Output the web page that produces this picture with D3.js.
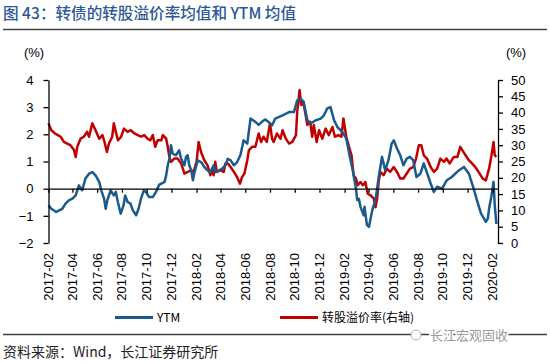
<!DOCTYPE html>
<html><head><meta charset="utf-8">
<script src="https://cdn.jsdelivr.net/npm/d3@7"></script>
<style>
html,body{margin:0;padding:0;background:#fff;}
svg{display:block;}
</style>
</head><body>
<svg id="chart" width="550" height="363"></svg>
<script>
const ytmDates = ["2017-02-01","2017-02-08","2017-02-20","2017-02-27","2017-03-07","2017-03-15","2017-03-23","2017-04-01","2017-04-09","2017-04-13","2017-04-17","2017-04-25","2017-05-03","2017-05-12","2017-05-20","2017-05-28","2017-06-06","2017-06-11","2017-06-18","2017-06-22","2017-06-26","2017-07-04","2017-07-12","2017-07-17","2017-07-22","2017-07-29","2017-08-05","2017-08-09","2017-08-15","2017-08-22","2017-08-28","2017-09-05","2017-09-11","2017-09-17","2017-09-24","2017-09-29","2017-10-07","2017-10-16","2017-10-24","2017-11-01","2017-11-06","2017-11-14","2017-11-18","2017-11-22","2017-11-26","2017-11-30","2017-12-04","2017-12-12","2017-12-20","2017-12-25","2018-01-02","2018-01-06","2018-01-10","2018-01-14","2018-01-19","2018-01-23","2018-01-27","2018-02-04","2018-02-12","2018-02-20","2018-02-28","2018-03-07","2018-03-15","2018-03-19","2018-03-28","2018-04-05","2018-04-13","2018-04-19","2018-04-26","2018-05-04","2018-05-12","2018-05-20","2018-05-28","2018-06-06","2018-06-14","2018-06-26","2018-07-04","2018-07-12","2018-07-20","2018-07-28","2018-08-06","2018-08-14","2018-09-01","2018-09-17","2018-09-29","2018-10-07","2018-10-15","2018-10-23","2018-11-01","2018-11-09","2018-11-22","2018-12-04","2018-12-12","2018-12-20","2018-12-28","2019-01-06","2019-01-14","2019-01-26","2019-02-05","2019-02-13","2019-02-21","2019-03-01","2019-03-04","2019-03-08","2019-03-12","2019-03-20","2019-03-22","2019-03-28","2019-04-02","2019-04-10","2019-04-18","2019-04-26","2019-05-04","2019-05-12","2019-05-20","2019-05-28","2019-06-02","2019-06-10","2019-06-18","2019-06-26","2019-07-04","2019-07-12","2019-07-20","2019-07-28","2019-08-07","2019-08-15","2019-09-01","2019-09-09","2019-09-17","2019-09-29","2019-10-11","2019-10-23","2019-11-10","2019-11-22","2019-12-04","2019-12-16","2019-12-24","2020-01-03","2020-01-15","2020-01-20","2020-01-23","2020-01-29","2020-02-03","2020-02-06","2020-02-10"];
const ytmValues = [-0.61,-0.74,-0.86,-0.80,-0.74,-0.55,-0.43,-0.37,-0.25,-0.06,0.12,-0.06,0.37,0.55,0.61,0.49,0.25,-0.06,-0.37,-0.74,-0.43,-0.06,-0.25,-0.12,-0.49,-0.92,-0.61,-0.25,-0.49,-0.55,-0.80,-0.98,-0.74,-0.37,-0.06,-0.12,-0.31,-0.31,-0.12,0.15,0.18,0.25,0.49,0.86,1.10,1.60,1.29,1.23,1.41,1.10,0.86,1.17,1.23,0.86,0.67,0.31,0.61,1.04,0.98,0.80,0.67,0.61,0.86,0.61,0.67,0.74,0.86,1.10,1.04,0.86,0.98,1.23,1.78,1.66,2.58,2.46,2.35,2.46,2.55,2.46,2.33,2.58,2.70,2.82,2.82,3.25,3.31,3.19,2.52,2.40,2.52,2.58,2.70,2.95,3.00,2.52,2.27,2.09,1.85,1.23,0.68,0.00,-0.42,-0.37,-0.67,-0.98,-0.67,-1.34,-1.40,-0.79,-0.42,0.43,1.17,0.68,1.05,1.66,1.78,1.48,1.23,0.86,1.11,1.17,1.05,0.43,0.56,0.93,0.19,-0.12,0.07,0.00,0.31,0.43,0.68,0.80,0.56,0.00,-0.42,-0.91,-1.22,-1.10,-0.74,-0.25,0.25,-0.61,-1.30];

const premDates = ["2017-02-01","2017-02-08","2017-02-17","2017-02-24","2017-03-03","2017-03-11","2017-03-19","2017-03-27","2017-04-05","2017-04-09","2017-04-13","2017-04-21","2017-04-29","2017-05-07","2017-05-12","2017-05-20","2017-05-28","2017-06-06","2017-06-14","2017-06-18","2017-06-25","2017-06-30","2017-07-08","2017-07-12","2017-07-17","2017-07-22","2017-07-30","2017-08-06","2017-08-15","2017-08-23","2017-09-01","2017-09-09","2017-09-17","2017-09-25","2017-10-03","2017-10-10","2017-10-16","2017-10-22","2017-10-28","2017-11-06","2017-11-10","2017-11-18","2017-11-22","2017-11-26","2017-11-30","2017-12-08","2017-12-16","2017-12-25","2018-01-02","2018-01-10","2018-01-19","2018-01-23","2018-02-01","2018-02-06","2018-02-12","2018-02-20","2018-02-28","2018-03-07","2018-03-11","2018-03-15","2018-03-19","2018-03-23","2018-04-01","2018-04-09","2018-04-13","2018-04-19","2018-04-26","2018-05-04","2018-05-12","2018-05-19","2018-05-24","2018-05-30","2018-06-06","2018-06-10","2018-06-18","2018-06-26","2018-07-04","2018-07-10","2018-07-16","2018-07-24","2018-08-01","2018-08-06","2018-08-10","2018-08-18","2018-08-27","2018-09-01","2018-09-09","2018-09-17","2018-09-25","2018-10-04","2018-10-07","2018-10-13","2018-10-17","2018-10-22","2018-10-28","2018-11-01","2018-11-08","2018-11-13","2018-11-17","2018-11-24","2018-11-30","2018-12-08","2018-12-16","2018-12-24","2019-01-02","2019-01-08","2019-01-16","2019-01-24","2019-01-29","2019-02-05","2019-02-13","2019-02-18","2019-02-23","2019-03-01","2019-03-05","2019-03-12","2019-03-18","2019-03-24","2019-03-30","2019-04-06","2019-04-14","2019-04-18","2019-04-22","2019-04-26","2019-04-30","2019-05-08","2019-05-16","2019-05-24","2019-06-02","2019-06-10","2019-06-18","2019-06-26","2019-07-04","2019-07-12","2019-07-20","2019-07-27","2019-08-03","2019-08-09","2019-08-15","2019-08-23","2019-09-01","2019-09-09","2019-09-17","2019-09-25","2019-10-04","2019-10-10","2019-10-18","2019-10-28","2019-11-06","2019-11-13","2019-11-18","2019-11-26","2019-12-04","2019-12-12","2019-12-20","2019-12-28","2020-01-07","2020-01-15","2020-01-23","2020-01-29","2020-02-03","2020-02-06","2020-02-10"];
const premValues = [36.7,34.6,33.6,33.1,32.6,31.0,30.5,30.0,28.5,26.4,29.5,32.0,32.6,34.1,32.6,36.7,34.6,32.0,33.1,31.5,27.9,30.5,32.6,36.7,34.1,31.5,32.6,35.1,34.1,34.6,33.6,33.1,32.6,33.1,32.0,31.5,33.1,29.5,31.5,31.5,33.1,32.0,29.5,26.4,24.9,25.9,25.9,24.4,21.3,21.8,22.3,21.3,24.9,31.0,27.9,25.4,23.8,20.8,22.3,20.8,24.9,21.8,22.3,21.8,24.4,24.4,23.3,21.8,20.2,18.2,20.2,21.3,25.4,28.5,29.5,29.5,33.6,31.0,32.6,31.0,36.7,32.0,31.0,33.6,32.0,34.6,32.0,30.5,31.0,33.1,40.2,46.9,42.3,43.3,39.2,36.2,37.2,32.6,36.2,31.0,34.6,32.0,35.1,33.1,35.6,32.6,33.1,32.6,38.2,32.6,29.0,26.9,20.8,19.8,17.7,18.7,17.7,18.7,15.1,14.6,13.6,11.0,13.6,19.0,21.8,20.8,22.8,21.8,23.3,21.8,19.8,19.8,21.3,22.8,23.3,25.9,30.0,30.0,26.9,25.9,23.3,21.8,22.8,25.9,24.9,25.9,24.4,26.4,26.4,29.5,28.5,26.9,25.4,24.4,23.3,21.8,19.8,19.2,22.8,26.9,31.0,26.9,26.4];

const xTickLabels = ["2017-02","2017-04","2017-06","2017-08","2017-10","2017-12","2018-02","2018-04","2018-06","2018-08","2018-10","2018-12","2019-02","2019-04","2019-06","2019-08","2019-10","2019-12","2020-02"];
const leftTicks = [-2,-1,0,1,2,3,4];
const rightTicks = [0,5,10,15,20,25,30,35,40,45,50];
const seriesNames = ["YTM","转股溢价率(右轴)"];
const titleText = "图 43：转债的转股溢价率均值和 YTM 均值";
const sourceText = "资料来源：Wind，长江证券研究所";
const watermarkText = "长江宏观固收";

const BLUE = "#1B5A8C", RED = "#C00000";
const FONT = "'Liberation Sans', Arial, sans-serif";
const CJK = "'Noto Sans CJK SC', sans-serif";

const svg = d3.select("#chart");
const parse = d3.timeParse("%Y-%m-%d");
const pL = 48.5, pR = 498, pT = 80, pB = 243;

const x = d3.scaleTime().domain([parse("2017-02-01"), parse("2020-02-14")]).range([pL, pR]);
const yL = d3.scaleLinear().domain([-2, 4]).range([pB, pT]);
const yR = d3.scaleLinear().domain([0, 50]).range([pB, pT]);

// title
svg.append("text").attr("x", 3).attr("y", 19).attr("font-family", CJK).attr("font-size", 15.6)
  .attr("font-weight", 500).attr("fill", "#2B5797").text(titleText);
svg.append("line").attr("x1", 3).attr("x2", 547).attr("y1", 29.5).attr("y2", 29.5)
  .attr("stroke", "#404040").attr("stroke-width", 1.5);

// unit labels
svg.append("text").attr("x", 34).attr("y", 57).attr("text-anchor", "middle").attr("font-family", FONT)
  .attr("font-size", 13).text("(%)");
svg.append("text").attr("x", 516).attr("y", 57).attr("text-anchor", "middle").attr("font-family", FONT)
  .attr("font-size", 13).text("(%)");

// lines
const ytmData = ytmDates.map((d, i) => ({ d: parse(d), v: ytmValues[i] }));
const premData = premDates.map((d, i) => ({ d: parse(d), v: premValues[i] }));

svg.append("path").datum(premData)
  .attr("d", d3.line().x(p => x(p.d)).y(p => yR(p.v)))
  .attr("fill", "none").attr("stroke", RED).attr("stroke-width", 2.5).attr("stroke-linejoin", "round");
svg.append("path").datum(ytmData)
  .attr("d", d3.line().x(p => x(p.d)).y(p => yL(p.v)))
  .attr("fill", "none").attr("stroke", BLUE).attr("stroke-width", 2.5).attr("stroke-linejoin", "round");

// x axis at zero
const tickDates = xTickLabels.map(s => parse(s + "-01"));
const xAxis = d3.axisBottom(x).tickValues(tickDates).tickSize(4).tickSizeOuter(0).tickFormat("");
const gx = svg.append("g").attr("transform", `translate(0,${yL(0)})`).call(xAxis);
gx.select(".domain").attr("stroke", "#000").attr("stroke-width", 1.3);
gx.selectAll(".tick line").attr("stroke", "#000").attr("stroke-width", 1.3);

// x tick labels (rotated, at bottom)
svg.append("g").selectAll("text").data(xTickLabels).join("text")
  .attr("transform", (s, i) => `translate(${x(tickDates[i]) + 4.5},253) rotate(-90)`)
  .attr("text-anchor", "end").attr("font-family", FONT).attr("font-size", 13)
  .text(s => s);

// left axis
const gl = svg.append("g").attr("transform", `translate(${pL},0)`)
  .call(d3.axisLeft(yL).tickValues(leftTicks).tickSize(5).tickSizeOuter(0).tickPadding(10).tickFormat(d3.format("d")));
gl.select(".domain").attr("stroke", "#000").attr("stroke-width", 1.3);
gl.selectAll(".tick line").attr("stroke", "#000").attr("stroke-width", 1.3);
gl.selectAll("text").attr("font-family", FONT).attr("font-size", 13).attr("fill", "#000");

// right axis
const gr = svg.append("g").attr("transform", `translate(${pR},0)`)
  .call(d3.axisRight(yR).tickValues(rightTicks).tickSize(5).tickSizeOuter(0).tickPadding(8));
gr.select(".domain").attr("stroke", "#000").attr("stroke-width", 1.3);
gr.selectAll(".tick line").attr("stroke", "#000").attr("stroke-width", 1.3);
gr.selectAll("text").attr("font-family", FONT).attr("font-size", 13).attr("fill", "#000");

// legend
const legend = [
  { name: seriesNames[0], color: BLUE, x1: 115 },
  { name: seriesNames[1], color: RED, x1: 280 }
];
legend.forEach(l => {
  svg.append("line").attr("x1", l.x1).attr("x2", l.x1 + 38).attr("y1", 317.5).attr("y2", 317.5)
    .attr("stroke", l.color).attr("stroke-width", 3);
  svg.append("text").attr("x", l.x1 + 42).attr("y", 322).attr("font-family", CJK)
    .attr("font-size", 12).text(l.name);
});

// bottom divider + watermark
svg.append("line").attr("x1", 3).attr("x2", 547).attr("y1", 334.5).attr("y2", 334.5)
  .attr("stroke", "#404040").attr("stroke-width", 1.5);
svg.append("text").attr("x", 430).attr("y", 340).attr("font-family", CJK).attr("font-size", 13)
  .attr("fill", "#9a9a9a").attr("stroke", "#fff").attr("stroke-width", 3).attr("paint-order", "stroke")
  .text(watermarkText);
svg.append("circle").attr("cx", 416).attr("cy", 335).attr("r", 5).attr("fill", "#fff")
  .attr("stroke", "#b0b0b0").attr("stroke-width", 1);

// source
svg.append("text").attr("x", 3).attr("y", 357).attr("font-family", CJK).attr("font-size", 14)
  .attr("fill", "#222").text(sourceText);
</script>
</body></html>
